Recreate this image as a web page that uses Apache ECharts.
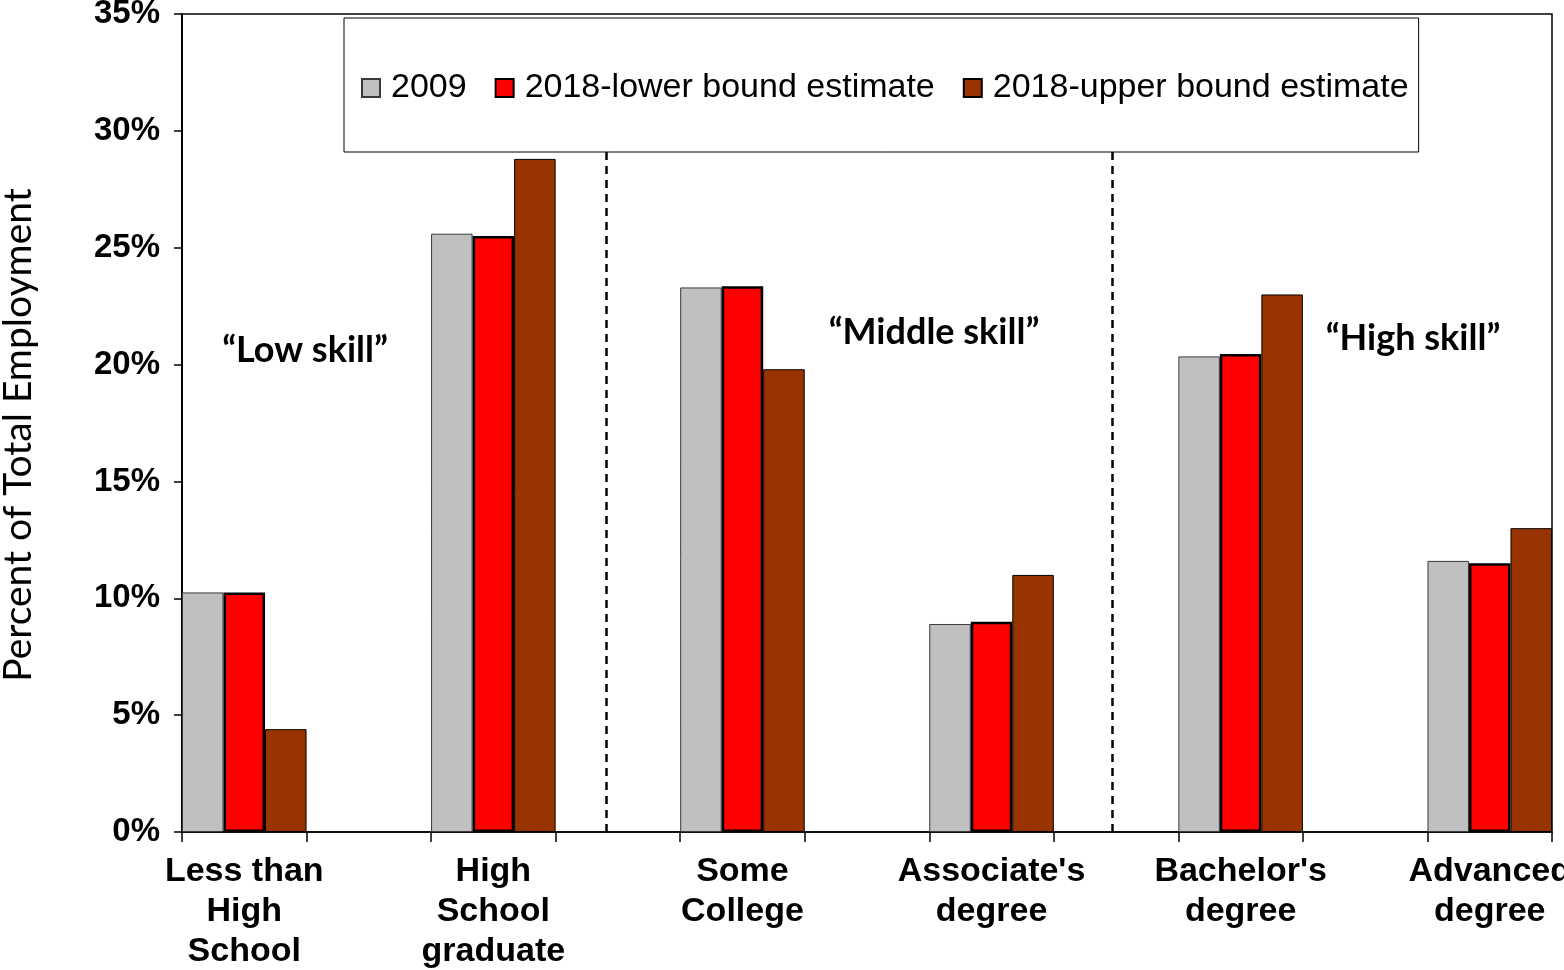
<!DOCTYPE html>
<html>
<head>
<meta charset="utf-8">
<script src="https://cdn.jsdelivr.net/npm/echarts@6/dist/echarts.min.js"></script>
<style>
  html, body { margin: 0; padding: 0; background: #fff; }
  #chart { width: 1564px; height: 970px; }
</style>
</head>
<body>
<div id="chart"></div>
<script>
(function(g) {
    'use strict';

    // education levels (6 groups)
    var categories = ['Less than\nHigh\nSchool', 'High\nSchool\ngraduate', 'Some\nCollege',
        "Associate's\ndegree", "Bachelor's\ndegree", 'Advanced\ndegree'];

    // percent of total employment
    var values2009 = [10.25, 25.6, 23.3, 8.9, 20.35, 11.6];
    var valuesLower = [10.25, 25.5, 23.35, 9.0, 20.45, 11.5];
    var valuesUpper = [4.4, 28.8, 19.8, 11.0, 23.0, 13.0];

    var yTicks = [0, 5, 10, 15, 20, 25, 30, 35];

    // skill group separators, in slot units of the axis
    var separators = [3.41, 7.47];

    var annotations = [
        { text: '\u201CLow skill\u201D', x: 305, y: 350 },
        { text: '\u201CMiddle skill\u201D', x: 934, y: 332 },
        { text: '\u201CHigh skill\u201D', x: 1413, y: 338 }
    ];

    // each group is followed by an empty gap slot of the same width
    function spread(arr, empty) {
        var out = [];
        for (var i = 0; i < arr.length; ++i) {
            out.push(arr[i]);
            if (i < arr.length - 1) {
                out.push(empty);
            }
        }
        return out;
    }

    var slots = spread(categories, '');
    var arial = '"Liberation Sans", Arial, sans-serif';
    var calibri = 'Lato, "Noto Sans", sans-serif';

    function barSeries(name, data, color, border, bw) {
        return {
            name: name,
            type: 'bar',
            data: spread(data, '-'),
            barGap: '0%',
            barCategoryGap: '0%',
            itemStyle: { color: color, borderColor: border, borderWidth: bw },
            emphasis: { disabled: true },
            silent: true
        };
    }

    var chart = echarts.init(document.getElementById('chart'));

    chart.setOption({
        animation: false,
        backgroundColor: '#fff',
        grid: {
            left: 182, right: 12, top: 14, bottom: 138,
            outerBoundsMode: 'none',
            containLabel: false,
            show: true, borderColor: '#000', borderWidth: 1.5
        },
        legend: {
            left: 344,
            top: 18,
            padding: [53, 10, 47, 17],
            borderColor: '#000',
            borderWidth: 1,
            backgroundColor: '#fff',
            itemWidth: 18,
            itemHeight: 18,
            itemGap: 28,
            icon: 'rect',
            selectedMode: false,
            data: ['2009', '2018-lower bound estimate', '2018-upper bound estimate'],
            textStyle: { fontFamily: arial, fontSize: 34, color: '#000', lineHeight: 34, padding: [0, 0, 0, 6] },
            z: 20
        },
        xAxis: [{
            type: 'category',
            data: slots,
            axisLine: { lineStyle: { color: '#000', width: 1.5 } },
            axisTick: { show: true, interval: 0, length: 10, alignWithLabel: false, lineStyle: { color: '#000', width: 1.5 } },
            axisLabel: {
                interval: 0,
                margin: 20,
                fontFamily: arial,
                fontWeight: 'bold',
                fontSize: 34,
                lineHeight: 40,
                color: '#000'
            }
        }, {
            type: 'value',
            min: 0,
            max: slots.length,
            show: false
        }],
        yAxis: {
            type: 'value',
            min: yTicks[0],
            max: yTicks[yTicks.length - 1],
            interval: 5,
            name: 'Percent of Total Employment',
            nameLocation: 'middle',
            nameGap: 144,
            nameTextStyle: { fontFamily: calibri, fontSize: 39, color: '#000', padding: [0, 24, 0, 0] },
            axisLine: { show: true, lineStyle: { color: '#000', width: 2 } },
            axisTick: { show: true, length: 8, lineStyle: { color: '#000', width: 1.5 } },
            splitLine: { show: false },
            axisLabel: {
                formatter: '{value}%',
                margin: 22,
                fontFamily: arial,
                fontWeight: 'bold',
                fontSize: 33,
                color: '#000'
            }
        },
        graphic: annotations.map(function(a) {
            return {
                type: 'text',
                x: a.x,
                y: a.y,
                silent: true,
                style: {
                    text: a.text,
                    fill: '#000',
                    font: 'bold 36px ' + calibri,
                    textAlign: 'center',
                    textVerticalAlign: 'middle'
                }
            };
        }),
        series: [
            barSeries('2009', values2009, '#C0C0C0', '#3a3a3a', 1),
            barSeries('2018-lower bound estimate', valuesLower, '#FF0000', '#000', 2.5),
            barSeries('2018-upper bound estimate', valuesUpper, '#993300', '#000', 1),
            {
                type: 'line',
                xAxisIndex: 1,
                yAxisIndex: 0,
                data: [[0, 0]],
                showSymbol: false,
                lineStyle: { opacity: 0 },
                silent: true,
                markLine: {
                    silent: true,
                    symbol: 'none',
                    label: { show: false },
                    lineStyle: { color: '#000', width: 2.5, type: [8, 6] },
                    data: separators.map(function(s) {
                        return [{ coord: [s, 0] }, { coord: [s, 30] }];
                    })
                }
            }
        ]
    });

})(window);
</script>
</body>
</html>
